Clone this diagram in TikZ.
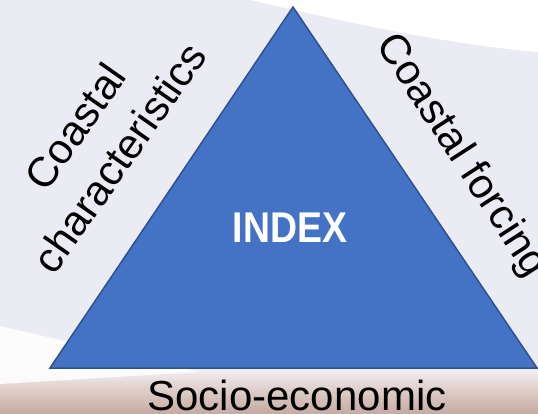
\documentclass[tikz,border=0pt]{standalone}
\usepackage{fontspec}
\setmainfont{Liberation Sans}
\definecolor{bg}{HTML}{EBEBF3}
\definecolor{trifill}{HTML}{4472C4}
\definecolor{triline}{HTML}{2F528F}
\definecolor{sandtop}{HTML}{F2EEF2}
\definecolor{sandmid}{HTML}{DCCAC4}
\definecolor{sandbot}{HTML}{C4AAA2}
\begin{document}
\begin{tikzpicture}[x=1pt,y=-1pt,
  lbl/.style={font=\fontsize{42}{54}\selectfont, text=black, inner sep=0pt, align=center},
  tri/.style={fill=trifill, draw=triline, line width=1.5pt, line join=miter}]
\useasboundingbox (0,0) rectangle (538,414);
% background
\fill[bg] (0,0) rectangle (538,414);
\fill[white] (250,0) .. controls (320,16) and (440,44) .. (538,52) -- (538,0) -- cycle;
\shade[top color=sandtop, bottom color=sandbot, middle color=sandmid] (0,370) rectangle (538,414);
\fill[white, opacity=0.85] (0,326) -- (200,372) -- (0,384) -- cycle;
% triangle
\coordinate (A) at (293,7);
\coordinate (B) at (50,368);
\coordinate (C) at (537,368);
\draw[tri] (A) -- (B) -- (C) -- cycle;
% labels
\node[text=white, inner sep=0pt, anchor=base, font=\fontsize{43}{50}\selectfont\bfseries] (idx) at (290,243) {\scalebox{0.87}[1]{INDEX}};
\node[lbl, rotate=55] (cc) at (97,142) {Coastal\\characteristics};
\node[lbl, rotate=-57] (cf) at (461,156) {Coastal forcing};
\node[lbl, anchor=base] (se) at (297,410) {Socio-economic};
\end{tikzpicture}
\end{document}
